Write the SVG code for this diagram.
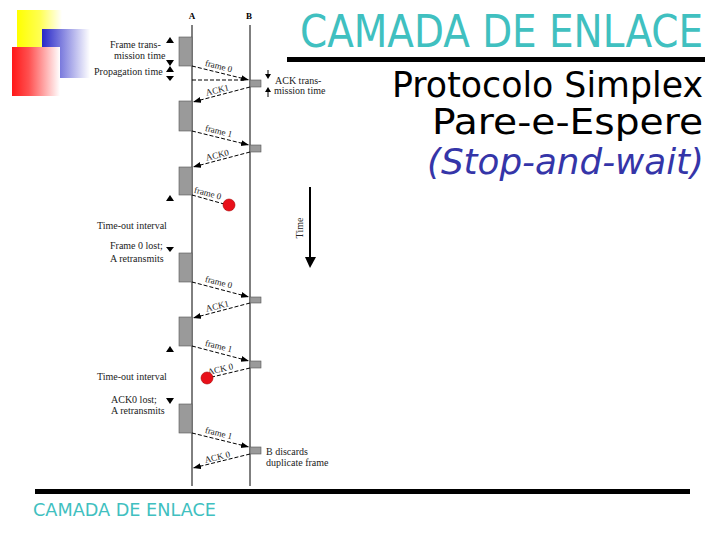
<svg xmlns="http://www.w3.org/2000/svg" width="720" height="540" viewBox="0 0 720 540">
<style>
.lbl{font-family:"Liberation Serif","Times New Roman",serif;font-size:10px;fill:#222}
.alb{font-family:"Liberation Serif","Times New Roman",serif;font-size:9px;fill:#222}
.hd{font-family:"Liberation Serif","Times New Roman",serif;font-size:9px;font-weight:bold;fill:#000}
.box{fill:#9a9a9a;stroke:#555;stroke-width:0.6}
.arr{stroke:#000;stroke-width:1;stroke-dasharray:4 2;fill:none}
.tri{fill:#000}
.lost{fill:#e8101a;stroke:#a00;stroke-width:0.6}
.title{font-family:"DejaVu Sans","Verdana",sans-serif}
.cond{font-family:"DejaVu Sans Condensed","DejaVu Sans","Verdana",sans-serif}
</style>
<defs>
<linearGradient id="gy" x1="0" y1="0" x2="1" y2="0"><stop offset="0" stop-color="#ffff00"/><stop offset="0.5" stop-color="#ffff50"/><stop offset="1" stop-color="#ffffff"/></linearGradient>
<linearGradient id="gb" x1="0" y1="0" x2="1" y2="0"><stop offset="0" stop-color="#2828c8"/><stop offset="1" stop-color="#ffffff"/></linearGradient>
<linearGradient id="gr" x1="0" y1="0" x2="1" y2="0"><stop offset="0" stop-color="#ff1818"/><stop offset="0.35" stop-color="#ff5050"/><stop offset="1" stop-color="#ffffff"/></linearGradient>
<marker id="ah" markerUnits="userSpaceOnUse" markerWidth="9" markerHeight="7" refX="8" refY="3" orient="auto"><path d="M0,0 L8,3 L0,6 z" fill="#000"/></marker>
</defs>

<g id="decor">
<rect x="17" y="10" width="45" height="46" fill="url(#gy)"/>
<rect x="42" y="29" width="48" height="49" fill="url(#gb)"/>
<rect x="12" y="47" width="48" height="49" fill="url(#gr)"/>
</g>

<g id="title">
<text class="cond" x="703" y="47" text-anchor="end" font-size="44" fill="#40c0c0" textLength="403" lengthAdjust="spacingAndGlyphs">CAMADA DE ENLACE</text>
<rect x="287" y="57" width="418" height="5" fill="#000"/>
<text class="title" x="703" y="97" text-anchor="end" font-size="35" fill="#000" textLength="311" lengthAdjust="spacingAndGlyphs">Protocolo Simplex</text>
<text class="title" x="703" y="134" text-anchor="end" font-size="35" fill="#000" textLength="271" lengthAdjust="spacingAndGlyphs">Pare-e-Espere</text>
<text class="title" x="704" y="174" text-anchor="end" font-size="35" font-style="italic" fill="#3535a8" textLength="277" lengthAdjust="spacingAndGlyphs">(Stop-and-wait)</text>
</g>

<g id="footer">
<rect x="35" y="489" width="655" height="5" fill="#000"/>
<text class="cond" x="33" y="516" font-size="18.5" fill="#40c0c0" textLength="183" lengthAdjust="spacingAndGlyphs">CAMADA DE ENLACE</text>
</g>

<g id="stationA">
<text class="hd" x="192" y="19" text-anchor="middle">A</text>
<line x1="192" y1="25" x2="192" y2="486" stroke="#000" stroke-width="1"/>
<rect class="box" x="179" y="37" width="13" height="29"/>
<rect class="box" x="179" y="101" width="13" height="30"/>
<rect class="box" x="179" y="167" width="13" height="28"/>
<rect class="box" x="179" y="253" width="13" height="29"/>
<rect class="box" x="179" y="317" width="13" height="29"/>
<rect class="box" x="179" y="404" width="13" height="29"/>
</g>

<g id="stationB">
<text class="hd" x="249" y="19" text-anchor="middle">B</text>
<line x1="250" y1="25" x2="250" y2="486" stroke="#000" stroke-width="1"/>
<rect class="box" x="250" y="80" width="11" height="7"/>
<rect class="box" x="250" y="145" width="11" height="7"/>
<rect class="box" x="250" y="297" width="11" height="6"/>
<rect class="box" x="250" y="361" width="11" height="7"/>
<rect class="box" x="250" y="447" width="11" height="7"/>
</g>

<g id="connectors">
<line class="arr" x1="192" y1="66" x2="249" y2="80" marker-end="url(#ah)"/>
<line class="arr" x1="192" y1="80" x2="244" y2="80"/>
<line class="arr" x1="250" y1="87" x2="193" y2="102" marker-end="url(#ah)"/>
<line class="arr" x1="192" y1="131" x2="249" y2="145" marker-end="url(#ah)"/>
<line class="arr" x1="250" y1="152" x2="193" y2="167" marker-end="url(#ah)"/>
<line class="arr" x1="192" y1="195" x2="224" y2="204"/>
<line class="arr" x1="192" y1="282" x2="249" y2="297" marker-end="url(#ah)"/>
<line class="arr" x1="250" y1="303" x2="193" y2="318" marker-end="url(#ah)"/>
<line class="arr" x1="192" y1="346" x2="249" y2="361" marker-end="url(#ah)"/>
<line class="arr" x1="250" y1="368" x2="212" y2="377"/>
<line class="arr" x1="192" y1="433" x2="249" y2="447" marker-end="url(#ah)"/>
<line class="arr" x1="250" y1="454" x2="193" y2="468" marker-end="url(#ah)"/>
<text class="alb" text-anchor="middle" transform="translate(218,69) rotate(14)">frame 0</text>
<text class="alb" text-anchor="middle" transform="translate(218,93) rotate(-14)">ACK1</text>
<text class="alb" text-anchor="middle" transform="translate(218,134) rotate(14)">frame 1</text>
<text class="alb" text-anchor="middle" transform="translate(218,158) rotate(-14)">ACK0</text>
<text class="alb" text-anchor="middle" transform="translate(207,196) rotate(15)">frame 0</text>
<text class="alb" text-anchor="middle" transform="translate(218,285) rotate(14)">frame 0</text>
<text class="alb" text-anchor="middle" transform="translate(218,309) rotate(-14)">ACK1</text>
<text class="alb" text-anchor="middle" transform="translate(218,349) rotate(14)">frame 1</text>
<text class="alb" text-anchor="middle" transform="translate(221,372) rotate(-13)">ACK 0</text>
<text class="alb" text-anchor="middle" transform="translate(218,436) rotate(14)">frame 1</text>
<text class="alb" text-anchor="middle" transform="translate(218,460) rotate(-14)">ACK 0</text>
</g>

<g id="lost-frame">
<circle class="lost" cx="229" cy="205" r="6"/>
</g>
<g id="lost-ack">
<circle class="lost" cx="207" cy="378" r="6"/>
</g>

<g id="annotations">
<polygon class="tri" points="166,43 174,43 170,37"/>
<polygon class="tri" points="166,60 174,60 170,66"/>
<polygon class="tri" points="166,72 174,72 170,66"/>
<polygon class="tri" points="166,76 174,76 170,81"/>
<text class="lbl" x="110" y="48">Frame trans-</text>
<text class="lbl" x="114" y="59">mission time</text>
<text class="lbl" x="94" y="75">Propagation time</text>

<line x1="268" y1="70" x2="268" y2="75" stroke="#000" stroke-width="1"/>
<polygon class="tri" points="265,74 271,74 268,79"/>
<polygon class="tri" points="265,92 271,92 268,87"/>
<line x1="268" y1="92" x2="268" y2="97" stroke="#000" stroke-width="1"/>
<text class="lbl" x="275" y="84">ACK trans-</text>
<text class="lbl" x="274" y="94">mission time</text>

<polygon class="tri" points="166,201 174,201 170,195"/>
<text class="lbl" x="97" y="229">Time-out interval</text>
<polygon class="tri" points="166,247 174,247 170,252"/>
<text class="lbl" x="110" y="249">Frame 0 lost;</text>
<text class="lbl" x="110" y="262">A retransmits</text>

<polygon class="tri" points="166,352 174,352 170,346"/>
<text class="lbl" x="97" y="380">Time-out interval</text>
<polygon class="tri" points="166,398 174,398 170,404"/>
<text class="lbl" x="111" y="403">ACK0 lost;</text>
<text class="lbl" x="111" y="414">A retransmits</text>

<text class="lbl" x="266" y="455">B discards</text>
<text class="lbl" x="266" y="466">duplicate frame</text>
</g>

<g id="time-axis">
<line x1="310" y1="187" x2="310" y2="258" stroke="#000" stroke-width="2"/>
<polygon class="tri" points="305,257 316,257 310,268"/>
<text class="lbl" text-anchor="middle" transform="translate(303,228) rotate(-90)">Time</text>
</g>
</svg>
